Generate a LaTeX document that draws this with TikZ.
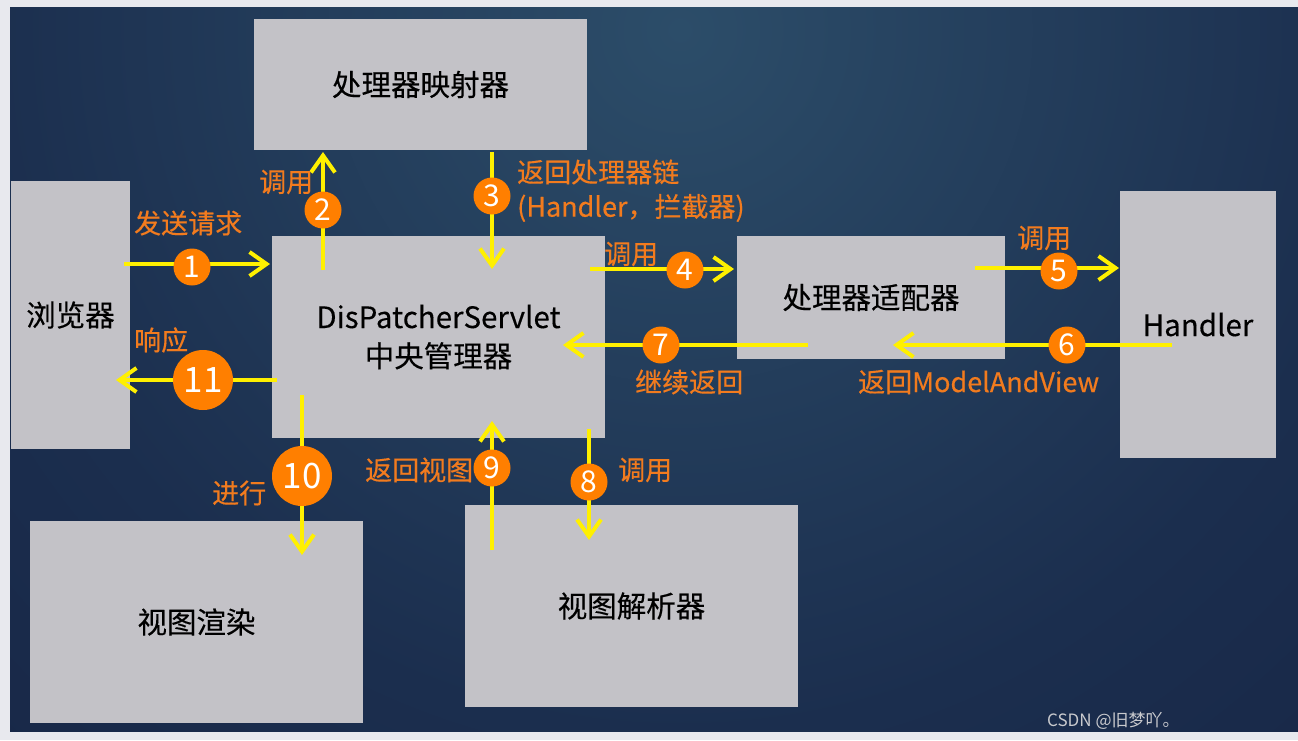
\documentclass[tikz,border=0pt]{standalone}
\usepackage{fontspec}
\setmainfont{Noto Sans CJK SC}[FakeBold=0.25]
\newfontfamily\lblfont{Noto Sans CJK SC}[FakeBold=0.35]
\newfontfamily\plainfont{Noto Sans CJK SC}
\usetikzlibrary{arrows.meta}
\definecolor{pagebg}{HTML}{E8E9EE}
\definecolor{bgin}{HTML}{2C4D69}
\definecolor{bgmid}{HTML}{1B2E4E}
\definecolor{bgout}{HTML}{152141}
\definecolor{boxfill}{HTML}{C3C2C7}
\definecolor{yl}{HTML}{FFF000}
\definecolor{orfill}{HTML}{FF7F00}
\definecolor{ortext}{HTML}{F27B1E}
\definecolor{wmark}{HTML}{C9CACE}
\pgfdeclareradialshading{slidebg}{\pgfpoint{0bp}{0bp}}{color(0bp)=(bgin); color(16bp)=(bgmid); color(30bp)=(bgout); color(50bp)=(bgout)}
\begin{document}
\begin{tikzpicture}[x=1pt,y=-1pt,
  box/.style={fill=boxfill, draw=none, text=black, inner sep=0pt, align=center,
              font=\fontsize{29.5}{39}\selectfont},
  num/.style={circle, fill=orfill, text=white, inner sep=0pt, minimum size=37pt,
              font=\plainfont\fontsize{30}{30}\selectfont},
  bignum/.style={num, minimum size=60pt, font=\plainfont\fontsize{35}{35}\selectfont},
  lbl/.style={text=ortext, inner sep=0pt, anchor=west, font=\lblfont\fontsize{27}{30}\selectfont},
  arr/.style={draw=yl, line width=4pt, -{Straight Barb[length=17pt,width=24pt]}}
]
\useasboundingbox (0,0) rectangle (1298,740);
\fill[pagebg] (0,0) rectangle (1298,740);
\begin{scope}
  \clip (10,7) rectangle (1298,731);
  \shade[shading=slidebg] (680,30) circle (1100);
\end{scope}

% boxes
\node[box, minimum width=333pt, minimum height=131pt] (map) at (420.5,84.5) {处理器映射器};
\node[box, minimum width=119pt, minimum height=268pt] (browser) at (70.5,315) {浏览器};
\node[box, minimum width=333pt, minimum height=202pt] (ds) at (438.5,337) {DisPatcherServlet\\中央管理器};
\node[box, minimum width=268pt, minimum height=123pt] (adapter) at (871,297.5) {处理器适配器};
\node[box, minimum width=156pt, minimum height=267pt] (handler) at (1198,324.5) {Handler};
\node[box, minimum width=333pt, minimum height=202pt] (render) at (196.5,622) {视图渲染};
\node[box, minimum width=333pt, minimum height=202pt] (resolver) at (631.5,606) {视图解析器};

% connector end points
\coordinate (a1) at (124,264);  \coordinate (b1) at (270,264);
\coordinate (a2) at (323,270);  \coordinate (b2) at (323,152);
\coordinate (a3) at (492,152);  \coordinate (b3) at (492,269);
\coordinate (a4) at (590,269);  \coordinate (b4) at (734,269);
\coordinate (a5) at (975,268);  \coordinate (b5) at (1119,268);
\coordinate (a6) at (1172,345); \coordinate (b6) at (893,345);
\coordinate (a7) at (808,345);  \coordinate (b7) at (563,345);
\coordinate (a8) at (589,429);  \coordinate (b8) at (589,540);
\coordinate (a9) at (492,550);  \coordinate (b9) at (492,421);
\coordinate (a10) at (302,395); \coordinate (b10) at (302,555);
\coordinate (a11) at (277,380); \coordinate (b11) at (116,380);

\foreach \i in {1,...,11} { \draw[arr] (a\i) -- (b\i); }

% numbered circles
\node[num] (c1) at (192,267) {1};
\node[num] (c2) at (323,210) {2};
\node[num] (c3) at (492,196) {3};
\node[num] (c4) at (685,270) {4};
\node[num] (c5) at (1059,271) {5};
\node[num] (c6) at (1067,345) {6};
\node[num] (c7) at (661,345) {7};
\node[num] (c8) at (589,482) {8};
\node[num] (c9) at (492,468) {9};
\node[bignum] (c10) at (302,476) {10};
\node[bignum] (c11) at (203,380) {11};

% labels
\node[lbl] (l1) at (134,223) {发送请求};
\node[lbl] (l2) at (259,182) {调用};
\node[lbl] (l3a) at (517,172) {返回处理器链};
\node[lbl] (l3b) at (517,208) {(Handler，拦截器)};
\node[lbl] (l4) at (604,254) {调用};
\node[lbl] (l5) at (1017,238) {调用};
\node[lbl] (l6) at (858,382) {返回ModelAndView};
\node[lbl] (l7) at (635,382) {继续返回};
\node[lbl] (l8) at (618,470) {调用};
\node[lbl] (l9) at (365,470) {返回视图};
\node[lbl] (l10) at (212,493) {进行};
\node[lbl] (l11) at (134,340) {响应};

\node[text=wmark, inner sep=0pt, anchor=west, font=\plainfont\fontsize{17}{17}\selectfont] (wm) at (1047,721) {CSDN @旧梦吖。};
\end{tikzpicture}
\end{document}
